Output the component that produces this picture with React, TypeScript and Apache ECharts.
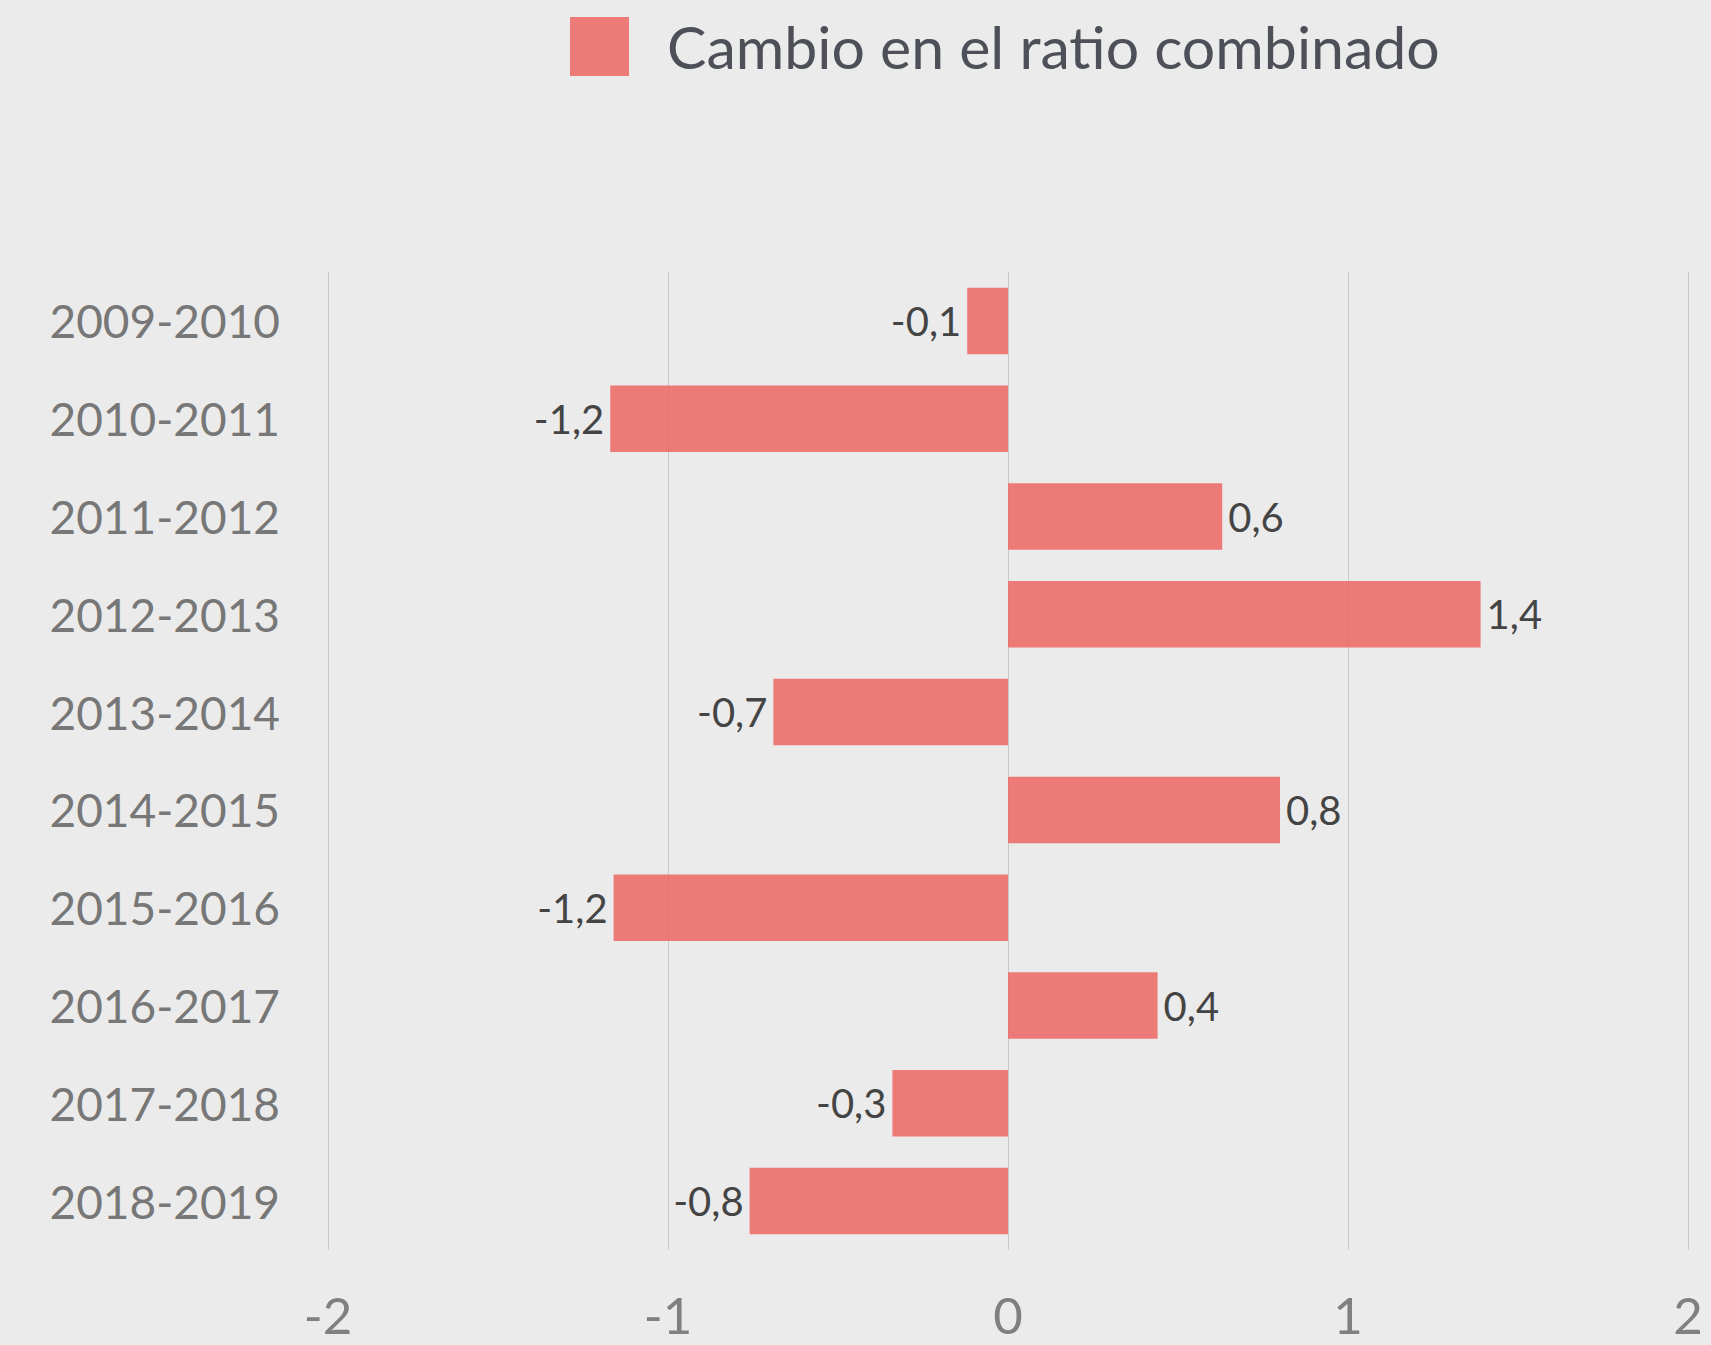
import React, { useEffect, useRef } from "react";
import * as echarts from "echarts";

const categories = [
  "2009-2010",
  "2010-2011",
  "2011-2012",
  "2012-2013",
  "2013-2014",
  "2014-2015",
  "2015-2016",
  "2016-2017",
  "2017-2018",
  "2018-2019",
];
const values = [-0.12, -1.17, 0.63, 1.39, -0.69, 0.8, -1.16, 0.44, -0.34, -0.76];
const seriesName = "Cambio en el ratio combinado";
const xTicks = [-2, -1, 0, 1, 2];

const FONT = "Lato, 'Noto Sans', sans-serif";

export default function App() {
  const ref = useRef<HTMLDivElement>(null);
  useEffect(() => {
    if (!ref.current) return;
    const chart = echarts.init(ref.current, undefined, { renderer: "svg" });
    const data = values.map((v) => ({
      value: v,
      label: { position: v < 0 ? "left" : "right" },
    }));
    chart.setOption({
      animation: false,
      backgroundColor: "#ebebeb",
      textStyle: { fontFamily: FONT },
      legend: {
        show: true,
        left: 565,
        top: 12,
        icon: "rect",
        itemWidth: 59,
        itemHeight: 59,
        data: [seriesName],
        textStyle: {
          fontSize: 59,
          color: "#4d5058",
          fontFamily: FONT,
          padding: [0, 0, 0, 33],
        },
      },
      grid: { left: 328, right: 23, top: 272, bottom: 95, containLabel: false },
      xAxis: {
        type: "value",
        min: xTicks[0],
        max: xTicks[xTicks.length - 1],
        interval: 1,
        axisLine: { show: false },
        axisTick: { show: false },
        splitLine: { show: true, lineStyle: { color: "#c9c9c9", width: 1 } },
        axisLabel: {
          fontSize: 51,
          lineHeight: 50,
          color: "#808080",
          margin: 39,
          fontFamily: FONT,
        },
      },
      yAxis: {
        type: "category",
        data: categories,
        inverse: true,
        axisLine: { show: false },
        axisTick: { show: false },
        splitLine: { show: false },
        axisLabel: {
          fontSize: 46,
          color: "#777777",
          margin: 48,
          fontFamily: FONT,
        },
      },
      series: [
        {
          name: seriesName,
          type: "bar",
          data,
          barCategoryGap: "32%",
          itemStyle: { color: "rgba(236, 103, 100, 0.85)" },
          label: {
            show: true,
            distance: 6,
            fontSize: 40,
            color: "#444444",
            fontFamily: FONT,
            formatter: (p: any) => Number(p.value).toFixed(1).replace(".", ","),
          },
        },
      ],
    });
    return () => chart.dispose();
  }, []);
  return (
    <div
      ref={ref}
      style={{ position: "fixed", left: 0, top: 0, width: 1711, height: 1345 }}
    />
  );
}
